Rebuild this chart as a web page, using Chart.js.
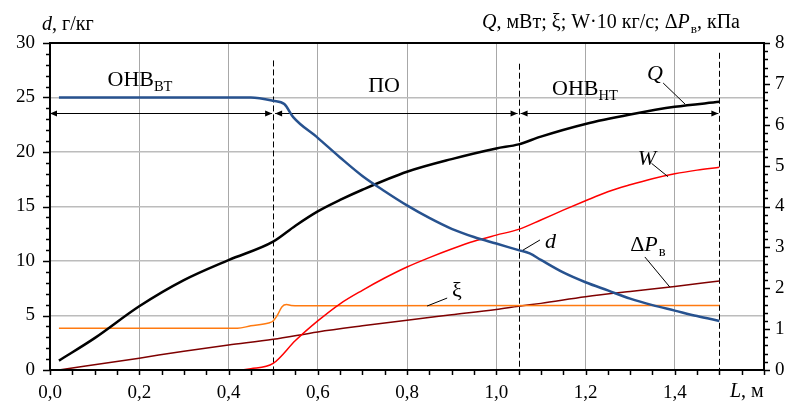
<!DOCTYPE html>
<html>
<head>
<meta charset="utf-8">
<script src="https://cdn.jsdelivr.net/npm/chart.js@4/dist/chart.umd.min.js"></script>
<style>
  html, body { margin: 0; padding: 0; background: #fff; }
</style>
</head>
<body>
<canvas id="chart" width="792" height="410"></canvas>
<script>
// d, г/кг (left axis)
var dL   = [0.02, 0.1, 0.2, 0.3, 0.4, 0.45, 0.5, 0.525, 0.545, 0.6, 0.65, 0.7, 0.75, 0.8, 0.85, 0.9, 0.95, 1.0, 1.05, 1.075, 1.1, 1.15, 1.2, 1.25, 1.3, 1.35, 1.4, 1.45, 1.5];
var dVal = [25, 25, 25, 25, 25, 25, 24.7, 24.4, 23.2, 21.3, 19.5, 17.8, 16.4, 15.1, 13.95, 12.95, 12.2, 11.6, 11.0, 10.7, 10.1, 8.95, 8.05, 7.3, 6.55, 5.95, 5.45, 4.95, 4.5];

// Q, мВт (right axis)
var qL   = [0.02, 0.1, 0.2, 0.3, 0.4, 0.5, 0.55, 0.6, 0.65, 0.7, 0.8, 0.9, 1.0, 1.05, 1.1, 1.2, 1.3, 1.4, 1.5];
var qVal = [0.23, 0.78, 1.56, 2.2, 2.69, 3.14, 3.53, 3.88, 4.16, 4.41, 4.85, 5.16, 5.42, 5.52, 5.71, 6.02, 6.25, 6.44, 6.56];

// W·10 кг/с (right axis)
var wL   = [0.02, 0.42, 0.45, 0.5, 0.55, 0.6, 0.65, 0.7, 0.75, 0.8, 0.85, 0.9, 0.95, 1.0, 1.05, 1.1, 1.15, 1.2, 1.25, 1.3, 1.35, 1.4, 1.45, 1.5];
var wVal = [0, 0, 0.03, 0.16, 0.72, 1.2, 1.62, 1.95, 2.25, 2.52, 2.75, 2.96, 3.15, 3.3, 3.44, 3.67, 3.91, 4.14, 4.36, 4.53, 4.68, 4.8, 4.89, 4.96];

// ξ (right axis)
var xiL   = [0.02, 0.42, 0.45, 0.49, 0.5, 0.51, 0.52, 0.53, 0.54, 0.56, 1.5];
var xiVal = [1.02, 1.02, 1.08, 1.15, 1.2, 1.35, 1.55, 1.6, 1.58, 1.57, 1.58];

// ΔPв, кПа (right axis)
var dpL   = [0.02, 0.2, 0.3, 0.4, 0.5, 0.6, 0.7, 0.8, 0.9, 1.0, 1.05, 1.1, 1.2, 1.3, 1.4, 1.5];
var dpVal = [0, 0.29, 0.46, 0.61, 0.75, 0.93, 1.08, 1.22, 1.35, 1.48, 1.56, 1.63, 1.79, 1.92, 2.04, 2.18];

// zones (ОНВвт / ПО / ОНВнт) and tick labels
var zoneEdges = [0, 0.5, 1.05, 1.5];
var zoneTops  = [null, 28.4, 28.1, 29.1];
var zoneArrowY = 23.55;
var xTicks = [0, 0.2, 0.4, 0.6, 0.8, 1.0, 1.2, 1.4];

var FONT = "'Liberation Serif', 'DejaVu Serif', serif";

function pts(xs, ys) {
  return xs.map(function (x, i) { return { x: x, y: ys[i] }; });
}

function richWidth(ctx, parts, size) {
  var w = 0;
  parts.forEach(function (p) {
    ctx.font = (p.i ? "italic " : "") + (p.sub ? size * 0.66 : size) + "px " + FONT;
    w += ctx.measureText(p.t).width + (p.gap || 0);
  });
  return w;
}

function drawRich(ctx, parts, x, y, size) {
  ctx.textAlign = "left";
  ctx.textBaseline = "alphabetic";
  parts.forEach(function (p) {
    var s = p.sub ? size * 0.66 : size;
    ctx.font = (p.i ? "italic " : "") + s + "px " + FONT;
    x += p.gap || 0;
    ctx.fillText(p.t, x, y + (p.sub ? size * 0.25 : 0));
    x += ctx.measureText(p.t).width;
  });
}

function line(ctx, x1, y1, x2, y2) {
  ctx.beginPath();
  ctx.moveTo(x1, y1);
  ctx.lineTo(x2, y2);
  ctx.stroke();
}

function arrowHead(ctx, x, y, dir) {
  ctx.beginPath();
  ctx.moveTo(x, y);
  ctx.lineTo(x - dir * 7, y - 3);
  ctx.lineTo(x - dir * 7, y + 3);
  ctx.closePath();
  ctx.fill();
}

var decor = {
  id: "decor",
  beforeDatasetsDraw: function (chart) {
    var ctx = chart.ctx, xs = chart.scales.x, ys = chart.scales.y;
    var bottom = chart.chartArea.bottom;
    ctx.save();
    ctx.strokeStyle = "#000";
    ctx.lineWidth = 1;
    ctx.setLineDash([6, 3]);
    for (var i = 1; i < zoneEdges.length; i++) {
      var px = Math.round(xs.getPixelForValue(zoneEdges[i])) + 0.5;
      line(ctx, px, ys.getPixelForValue(zoneTops[i]), px, bottom);
    }
    ctx.setLineDash([]);
    // zone arrows
    var ay = Math.round(ys.getPixelForValue(zoneArrowY)) + 0.5;
    ctx.fillStyle = "#000";
    for (var j = 0; j < zoneEdges.length - 1; j++) {
      var a = xs.getPixelForValue(zoneEdges[j]) + (j > 0 ? 2 : 0);
      var b = xs.getPixelForValue(zoneEdges[j + 1]) - 1;
      line(ctx, a, ay, b, ay);
      arrowHead(ctx, a, ay, -1);
      arrowHead(ctx, b, ay, 1);
    }
    ctx.restore();
  },
  afterDraw: function (chart) {
    var ctx = chart.ctx, a = chart.chartArea;
    var xs = chart.scales.x, ys = chart.scales.y, y1 = chart.scales.y1;
    ctx.save();
    ctx.strokeStyle = "#000";
    ctx.fillStyle = "#000";
    ctx.lineWidth = 2;
    ctx.strokeRect(a.left, a.top, a.right - a.left, a.bottom - a.top);
    ctx.lineWidth = 1.5;
    var i, p;
    for (i = 0; i <= 30; i++) {
      p = Math.round(ys.getPixelForValue(i)) + 0.5;
      line(ctx, a.left - (i % 5 === 0 ? 7 : 4), p, a.left, p);
    }
    for (i = 0; i <= 40; i++) {
      p = Math.round(y1.getPixelForValue(i / 5)) + 0.5;
      line(ctx, a.right, p, a.right + (i % 5 === 0 ? 6 : 4), p);
    }
    for (i = 0; i <= 32; i++) {
      p = Math.round(xs.getPixelForValue(i * 0.05)) + 0.5;
      line(ctx, p, a.bottom, p, a.bottom + 5);
    }

    // curve labels with leader lines
    ctx.lineWidth = 1;
    var X = function (v) { return xs.getPixelForValue(v); };
    var Y = function (v) { return ys.getPixelForValue(v); };
    line(ctx, X(1.374), Y(26.33), X(1.423), Y(24.4));
    line(ctx, X(1.348), Y(18.96), X(1.385), Y(17.73));
    line(ctx, X(1.06), Y(11.0), X(1.098), Y(11.93));
    line(ctx, X(1.333), Y(10.37), X(1.389), Y(7.61));
    line(ctx, X(0.845), Y(5.87), X(0.89), Y(6.6));

    drawRich(ctx, [{ t: "Q", i: true }], X(1.338), Y(26.6), 22);
    drawRich(ctx, [{ t: "W", i: true }], X(1.317), Y(18.8), 22);
    drawRich(ctx, [{ t: "d", i: true }], X(1.109), Y(11.19), 22);
    drawRich(ctx, [{ t: "Δ" }, { t: "P", i: true }, { t: "в", sub: true, gap: 1 }], X(1.3), Y(10.92), 22);
    drawRich(ctx, [{ t: "ξ" }], X(0.901), Y(6.7), 22);

    // zone names
    drawRich(ctx, [{ t: "ОНВ" }, { t: "ВТ", sub: true }], X(0.129), Y(26.1), 22);
    drawRich(ctx, [{ t: "ПО" }], X(0.713), Y(25.46), 22);
    drawRich(ctx, [{ t: "ОНВ" }, { t: "НТ", sub: true }], X(1.125), Y(25.23), 22);

    // axis titles
    drawRich(ctx, [{ t: "d", i: true }, { t: ", г/кг" }], 42, 30, 20);
    var rt = [{ t: "Q", i: true }, { t: ", мВт; ξ; W·10 кг/с; Δ" }, { t: "P", i: true },
              { t: "в", sub: true, gap: 1 }, { t: ", кПа" }];
    drawRich(ctx, rt, 740 - richWidth(ctx, rt, 20), 28, 20);
    drawRich(ctx, [{ t: "L", i: true }, { t: ", м" }], 730, 397, 20);
    ctx.restore();
  }
};

var ctx = document.getElementById("chart");
new Chart(ctx, {
  type: "line",
  data: {
    datasets: [
      { label: "d", data: pts(dL, dVal), yAxisID: "y", borderColor: "#27528f", borderWidth: 2.5 },
      { label: "Q", data: pts(qL, qVal), yAxisID: "y1", borderColor: "#000000", borderWidth: 2.5 },
      { label: "W", data: pts(wL, wVal), yAxisID: "y1", borderColor: "#ff0000", borderWidth: 1.5 },
      { label: "ξ", data: pts(xiL, xiVal), yAxisID: "y1", borderColor: "#ff7a10", borderWidth: 1.5 },
      { label: "ΔPв", data: pts(dpL, dpVal), yAxisID: "y1", borderColor: "#7f0000", borderWidth: 1.5 }
    ]
  },
  options: {
    responsive: false,
    animation: false,
    layout: { padding: { top: 43, left: 0, right: 0, bottom: 0 } },
    elements: {
      point: { radius: 0 },
      line: { cubicInterpolationMode: "monotone", fill: false }
    },
    plugins: { legend: { display: false }, tooltip: { enabled: false } },
    scales: {
      x: {
        type: "linear", min: 0, max: 1.6,
        afterFit: function (s) { s.height = 40; },
        afterBuildTicks: function (s) { s.ticks = xTicks.concat([1.6]).map(function (v) { return { value: v }; }); },
        border: { display: false },
        grid: {
          drawTicks: false,
          lineWidth: 1,
          color: function (c) { var v = c.tick.value; return v > 0.01 && v < 1.59 ? "#a8a8a8" : "rgba(0,0,0,0)"; }
        },
        ticks: {
          padding: 12, color: "#000", maxRotation: 0, autoSkip: false,
          font: { family: FONT, size: 19 },
          callback: function (v) { return v > 1.55 ? "" : v.toFixed(1).replace(".", ","); }
        }
      },
      y: {
        position: "left", min: 0, max: 30,
        afterFit: function (s) { s.width = 50; },
        border: { display: false },
        grid: {
          drawTicks: false,
          lineWidth: 1.5,
          color: function (c) { var v = c.tick.value; return v > 0 && v < 30 ? "#bcbcbc" : "rgba(0,0,0,0)"; }
        },
        ticks: { stepSize: 5, padding: 15, color: "#000", font: { family: FONT, size: 19 } }
      },
      y1: {
        position: "right", min: 0, max: 8,
        afterFit: function (s) { s.width = 28; },
        border: { display: false },
        grid: { display: false, drawTicks: false },
        ticks: { stepSize: 1, padding: 11, color: "#000", font: { family: FONT, size: 19 } }
      }
    }
  },
  plugins: [decor]
});
</script>
</body>
</html>
